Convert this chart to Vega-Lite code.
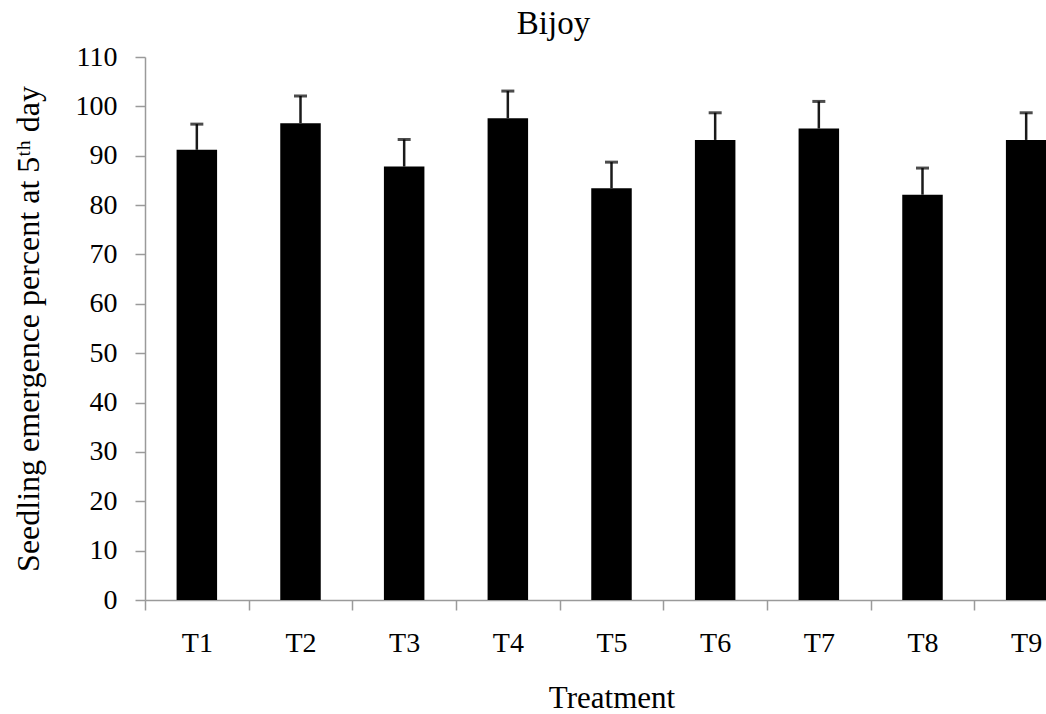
{
  "$schema": "https://vega.github.io/schema/vega-lite/v6.json",
  "autosize": "none",
  "padding": {"left": 145, "top": 57, "right": 0, "bottom": 114},
  "width": 933,
  "height": 543,
  "background": "white",
  "title": {
    "text": "Bijoy",
    "font": "Liberation Serif",
    "fontSize": 33,
    "fontWeight": "normal",
    "color": "#000000",
    "anchor": "middle",
    "frame": "group",
    "baseline": "alphabetic",
    "offset": -24,
    "dx": -58
  },
  "data": {
    "values": [
      {"treatment": "T1", "mean": 91.2, "upper": 96.4},
      {"treatment": "T2", "mean": 96.6, "upper": 102.1},
      {"treatment": "T3", "mean": 87.8, "upper": 93.3},
      {"treatment": "T4", "mean": 97.6, "upper": 103.1},
      {"treatment": "T5", "mean": 83.4, "upper": 88.7},
      {"treatment": "T6", "mean": 93.2, "upper": 98.7},
      {"treatment": "T7", "mean": 95.5, "upper": 101.0},
      {"treatment": "T8", "mean": 82.1, "upper": 87.5},
      {"treatment": "T9", "mean": 93.2, "upper": 98.7}
    ]
  },
  "encoding": {
    "x": {
      "field": "treatment",
      "type": "nominal",
      "sort": null,
      "scale": {"paddingInner": 0, "paddingOuter": 0},
      "axis": {
        "title": "Treatment",
        "titleFont": "Liberation Serif",
        "titleFontSize": 31,
        "titleFontWeight": "normal",
        "titleColor": "#000000",
        "titleBaseline": "alphabetic",
        "titleY": 107,
        "labelFont": "Liberation Serif",
        "labelFontSize": 28,
        "labelColor": "#000000",
        "labelAngle": 0,
        "labelBaseline": "alphabetic",
        "labelPadding": 41,
        "tickBand": "extent",
        "tickSize": 10,
        "tickColor": "#9a9a9a",
        "tickWidth": 1.5,
        "domainColor": "#9a9a9a",
        "domainWidth": 1.5,
        "grid": false
      }
    }
  },
  "layer": [
    {
      "mark": {"type": "bar", "color": "#000000", "size": 40.5},
      "encoding": {
        "y": {
          "field": "mean",
          "type": "quantitative",
          "scale": {"domain": [0, 110], "nice": false},
          "axis": {
            "title": "Seedling emergence percent at 5ᵗʰ day",
            "titleFont": "Liberation Serif",
            "titleFontSize": 32,
            "titleFontWeight": "normal",
            "titleColor": "#000000",
            "titleAngle": -90,
            "titleAlign": "center",
            "titleBaseline": "alphabetic",
            "titleX": -107,
            "titleY": 271.5,
            "values": [0, 10, 20, 30, 40, 50, 60, 70, 80, 90, 100, 110],
            "labelFont": "Liberation Serif",
            "labelFontSize": 28,
            "labelColor": "#000000",
            "labelPadding": 18,
            "tickSize": 10,
            "tickColor": "#9a9a9a",
            "tickWidth": 1.5,
            "domainColor": "#9a9a9a",
            "domainWidth": 1.5,
            "grid": false
          }
        }
      }
    },
    {
      "mark": {"type": "rule", "color": "#1a1a1a", "strokeWidth": 2.5},
      "encoding": {
        "y": {"field": "mean", "type": "quantitative"},
        "y2": {"field": "upper"}
      }
    },
    {
      "mark": {"type": "tick", "color": "#000000", "size": 13, "thickness": 3},
      "encoding": {
        "y": {"field": "upper", "type": "quantitative"}
      }
    }
  ],
  "config": {
    "view": {"stroke": null}
  }
}
